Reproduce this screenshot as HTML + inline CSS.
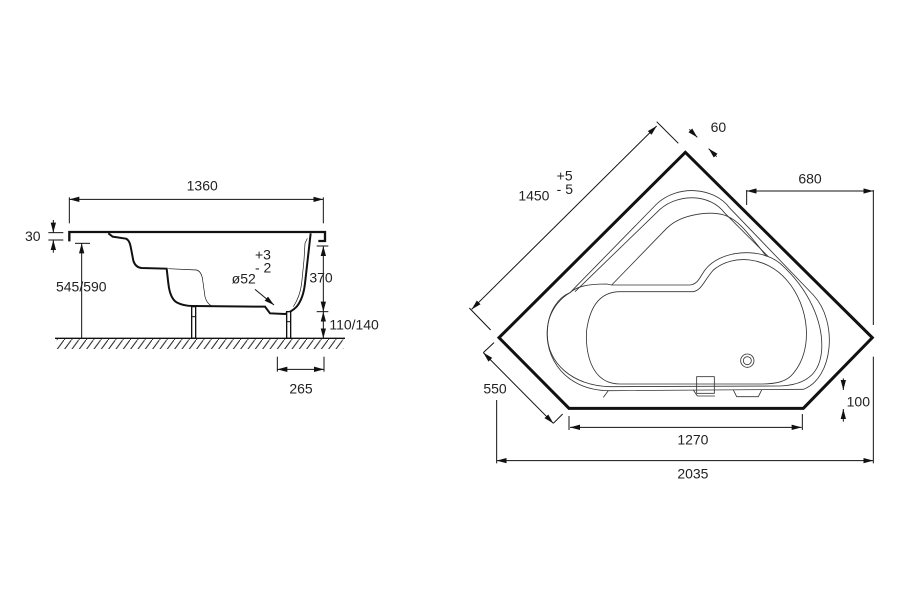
<!DOCTYPE html>
<html><head><meta charset="utf-8"><style>
html,body{margin:0;padding:0;background:#fff;width:900px;height:600px;overflow:hidden}
svg text{font-family:"Liberation Sans",Arial,sans-serif;font-size:42px;fill:#222}
</style></head><body>
<svg width="900" height="600" viewBox="0 0 900 600" xmlns="http://www.w3.org/2000/svg">
<defs>
<marker id="a" markerUnits="userSpaceOnUse" markerWidth="32" markerHeight="16" refX="30" refY="8" orient="auto"><path d="M0,0 L30,8 L0,16 Z" fill="#111"/></marker>
<marker id="b" markerUnits="userSpaceOnUse" markerWidth="32" markerHeight="16" refX="2" refY="8" orient="auto"><path d="M32,0 L2,8 L32,16 Z" fill="#111"/></marker>
<pattern id="h" patternUnits="userSpaceOnUse" width="22" height="30"><line x1="0" y1="30" x2="22" y2="0" stroke="#222" stroke-width="3"/></pattern>
</defs>

<!-- LEFT VIEW -->
<g transform="translate(20,170) scale(0.33333)" fill="none" stroke="#111" stroke-width="3">
<line x1="148" y1="88" x2="910" y2="88" marker-start="url(#b)" marker-end="url(#a)"/>
<line x1="148" y1="82" x2="148" y2="160"/><line x1="910" y1="82" x2="910" y2="160"/>
<text x="500" y="62" stroke="none">1360</text>
<line x1="100" y1="150" x2="100" y2="188" marker-end="url(#a)"/>
<line x1="100" y1="248" x2="100" y2="210" marker-end="url(#a)"/>
<line x1="85" y1="188" x2="130" y2="188"/><line x1="85" y1="210" x2="130" y2="210"/>
<text x="15" y="213" stroke="none">30</text>
<path d="M148,214 L148,186 L915,186 L915,213 L895,213" stroke-width="7"/>
<path d="M265,190 L278,200 L318,206 Q328,210 332,230 L340,272 Q346,292 365,294 L440,296 L445,340 Q450,385 470,397 Q490,408 520,408 L735,410 L750,430 L795,432 Q815,425 830,410 Q850,385 855,340 L872,190" stroke-width="6"/>
<path d="M445,296 L530,300 Q545,305 548,330 L555,380 Q560,400 575,408" stroke-width="2"/>
<path d="M862,205 L855,220 L852,270 L845,340 Q840,380 820,410" stroke-width="2"/>
<rect x="515" y="410" width="12" height="95" fill="#fff" stroke-width="4"/>
<rect x="800" y="425" width="12" height="80" fill="#fff" stroke-width="4"/>
<line x1="515" y1="440" x2="527" y2="440"/><line x1="800" y1="455" x2="812" y2="455"/>
<line x1="105" y1="505" x2="975" y2="505" stroke-width="4"/>
<rect x="110" y="507" width="860" height="30" fill="url(#h)" stroke="none"/>
<line x1="165" y1="220" x2="210" y2="220"/>
<line x1="185" y1="505" x2="185" y2="220" marker-end="url(#a)"/>
<text x="108" y="365" stroke="none">545/590</text>
<line x1="910" y1="228" x2="910" y2="425" marker-start="url(#b)" marker-end="url(#a)"/>
<line x1="910" y1="425" x2="910" y2="505" marker-start="url(#b)" marker-end="url(#a)"/>
<line x1="890" y1="228" x2="925" y2="228"/><line x1="890" y1="425" x2="925" y2="425"/>
<text x="868" y="338" stroke="none">370</text>
<text x="928" y="478" stroke="none">110/140</text>
<text x="635" y="340" stroke="none">ø52</text>
<text x="705" y="268" stroke="none">+3</text>
<text x="705" y="308" stroke="none">- 2</text>
<line x1="705" y1="358" x2="762" y2="405" marker-end="url(#a)"/>
<line x1="772" y1="560" x2="772" y2="605"/><line x1="912" y1="560" x2="912" y2="605"/>
<line x1="772" y1="598" x2="912" y2="598" marker-start="url(#b)" marker-end="url(#a)"/>
<text x="808" y="670" stroke="none">265</text>
</g>

<!-- RIGHT VIEW -->
<g transform="translate(460,110) scale(0.33333)" fill="none" stroke="#111" stroke-width="3">
<polygon points="676,127 1237,683 1030,895 327,895 117,683" stroke-width="9" stroke-linejoin="miter"/>
<g stroke="#333" stroke-width="2.5">
<path d="M330,548 L590,282 C650,225 760,228 810,295 L1060,555 C1135,635 1120,805 1030,838 L450,842 C300,842 240,720 268,625 C282,585 305,563 330,548 Z"/>
<path d="M345,545 L600,298 C655,250 750,250 795,310 L925,440"/>
<path d="M455,525 L620,355 C665,310 760,300 800,318 C830,330 850,350 920,440"/>
<path d="M330,548 C350,530 380,522 440,522 L455,525 L690,525 C715,522 720,500 735,480 C780,420 900,410 960,460 C1050,540 1090,640 1085,720 C1080,790 1040,825 960,828 L450,830 C340,828 260,760 262,670 C262,600 300,560 330,548"/>
<path d="M480,545 L700,545 C725,540 730,515 760,480 C820,430 920,440 980,510 C1050,590 1060,720 1000,790 C980,815 950,822 900,822 L480,822 C390,822 375,720 380,660 C390,590 420,545 480,545 Z"/>
<circle cx="862" cy="752" r="20"/><circle cx="862" cy="752" r="12"/>
<rect x="710" y="800" width="53" height="50"/>
<path d="M700,840 L712,858 L765,858 M820,840 L830,860 L895,860 L905,840 M445,842 L430,862"/>
</g>
<line x1="35" y1="598" x2="590" y2="48" marker-start="url(#b)" marker-end="url(#a)"/>
<line x1="590" y1="35" x2="655" y2="100"/><line x1="28" y1="594" x2="92" y2="660"/>
<text x="175" y="272" stroke="none">1450</text>
<text x="290" y="212" stroke="none">+5</text>
<text x="290" y="252" stroke="none">- 5</text>
<line x1="688" y1="58" x2="712" y2="82" marker-end="url(#a)"/>
<line x1="770" y1="140" x2="746" y2="116" marker-end="url(#a)"/>
<text x="752" y="66" stroke="none">60</text>
<line x1="860" y1="243" x2="1240" y2="243" marker-start="url(#b)" marker-end="url(#a)"/>
<line x1="860" y1="240" x2="860" y2="285"/><line x1="1240" y1="240" x2="1240" y2="645"/>
<text x="1015" y="220" stroke="none">680</text>
<line x1="70" y1="728" x2="280" y2="940" marker-start="url(#b)" marker-end="url(#a)"/>
<line x1="70" y1="728" x2="102" y2="698"/><line x1="280" y1="940" x2="308" y2="912"/>
<text x="70" y="850" stroke="none">550</text>
<line x1="327" y1="918" x2="327" y2="960"/><line x1="1027" y1="912" x2="1027" y2="960"/>
<line x1="330" y1="952" x2="1025" y2="952" marker-start="url(#b)" marker-end="url(#a)"/>
<text x="652" y="1003" stroke="none">1270</text>
<line x1="1150" y1="805" x2="1150" y2="840" marker-end="url(#a)"/>
<line x1="1150" y1="935" x2="1150" y2="897" marker-end="url(#a)"/>
<text x="1160" y="890" stroke="none">100</text>
<line x1="110" y1="870" x2="110" y2="1060"/><line x1="1240" y1="740" x2="1240" y2="1060"/>
<line x1="110" y1="1052" x2="1240" y2="1052" marker-start="url(#b)" marker-end="url(#a)"/>
<text x="652" y="1105" stroke="none">2035</text>
</g>
</svg>
</body></html>
